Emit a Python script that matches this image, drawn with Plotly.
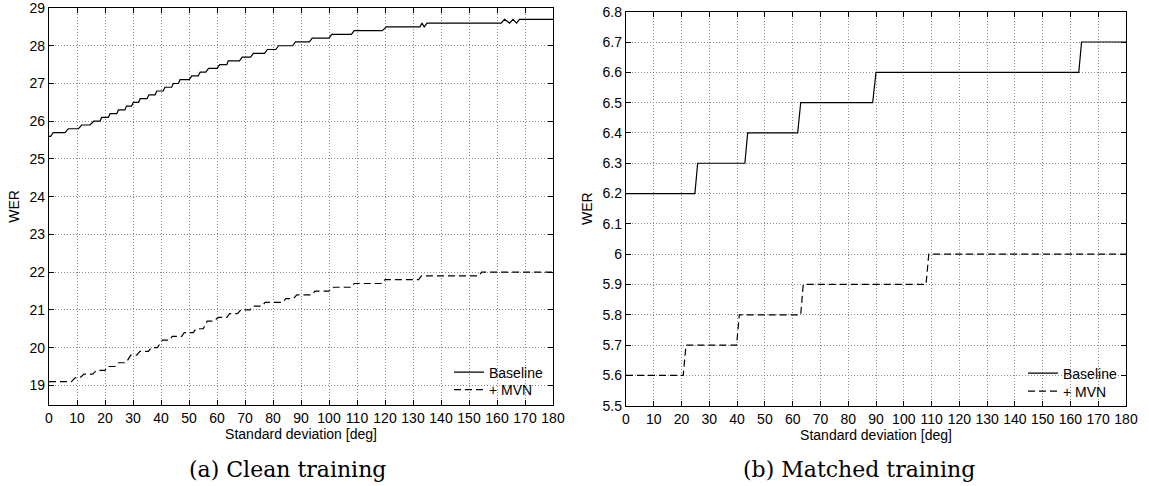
import plotly.graph_objects as go

# ---- data: WER vs. standard deviation of the angle perturbation ----
# (a) clean training: vertices of the piecewise-linear curves
clean_base_x = [0, 0.6, 1.5, 5.7, 6.9, 10.5, 11.7, 14.6, 16, 18.2, 18.8, 21.2, 21.8, 24.2,
                24.8, 27.1, 27.7, 29.5, 30.1, 32, 32.6, 35, 35.7, 37.9, 38.5, 40.8, 41.4,
                43.8, 44.4, 46.2, 46.8, 50.1, 51, 53.3, 54, 56, 57, 60, 61, 63.5, 64, 68,
                69, 72, 73, 77, 78, 81, 82, 87, 88, 93, 94, 100, 101, 108, 109, 119, 120.5,
                132.5, 133.2, 134, 135, 161.5, 162.7, 164.5, 165.7, 167, 168, 180]
clean_base_y = [25.6, 25.6, 25.7, 25.7, 25.8, 25.8, 25.9, 25.9, 26.0, 26.0, 26.1, 26.1, 26.2,
                26.2, 26.3, 26.3, 26.4, 26.4, 26.5, 26.5, 26.6, 26.6, 26.7, 26.7, 26.8, 26.8,
                26.9, 26.9, 27.0, 27.0, 27.1, 27.1, 27.2, 27.2, 27.3, 27.3, 27.4, 27.4, 27.5,
                27.5, 27.6, 27.6, 27.7, 27.7, 27.8, 27.8, 27.9, 27.9, 28.0, 28.0, 28.1, 28.1,
                28.2, 28.2, 28.3, 28.3, 28.4, 28.4, 28.5, 28.5, 28.6, 28.5, 28.6, 28.6, 28.7,
                28.6, 28.7, 28.6, 28.7, 28.7]

clean_mvn_x = [0, 8, 9.3, 11, 12.5, 15.6, 17, 20, 21, 23.6, 24.8, 27.5, 29.2, 31.3, 32.5,
               35.5, 36.5, 38.7, 40.5, 43.2, 44, 47.4, 48.3, 51.5, 52.5, 55.1, 56.5, 58.7,
               60.5, 63.5, 64.5, 67.3, 68.5, 71.8, 72.8, 76, 77.2, 83.5, 84.6, 87.3, 88.5,
               94, 95, 100, 101, 108, 109, 119, 120, 132, 133, 153.5, 154.5, 180]
clean_mvn_y = [19.1, 19.1, 19.2, 19.2, 19.3, 19.3, 19.4, 19.4, 19.5, 19.5, 19.6, 19.6, 19.8,
               19.8, 19.9, 19.9, 20.0, 20.0, 20.2, 20.2, 20.3, 20.3, 20.4, 20.4, 20.5, 20.5,
               20.7, 20.7, 20.8, 20.8, 20.9, 20.9, 21.0, 21.0, 21.1, 21.1, 21.2, 21.2, 21.3,
               21.3, 21.4, 21.4, 21.5, 21.5, 21.6, 21.6, 21.7, 21.7, 21.8, 21.8, 21.9, 21.9,
               22.0, 22.0]

# (b) matched training
matched_base_x = [0, 24.8, 25.8, 42.8, 43.8, 61.8, 62.9, 88.8, 90, 163, 164, 180]
matched_base_y = [6.2, 6.2, 6.3, 6.3, 6.4, 6.4, 6.5, 6.5, 6.6, 6.6, 6.7, 6.7]

matched_mvn_x = [0, 20.6, 21.6, 39.8, 40.8, 62.9, 63.8, 108, 109, 180]
matched_mvn_y = [5.6, 5.6, 5.7, 5.7, 5.8, 5.8, 5.9, 5.9, 6.0, 6.0]

x_ticks = list(range(0, 181, 10))
clean_y_ticks = list(range(19, 30))
matched_y_ticks = [5.5, 5.6, 5.7, 5.8, 5.9, 6.0, 6.1, 6.2, 6.3, 6.4, 6.5, 6.6, 6.7, 6.8]
matched_y_labels = ["5.5", "5.6", "5.7", "5.8", "5.9", "6", "6.1", "6.2", "6.3", "6.4",
                    "6.5", "6.6", "6.7", "6.8"]

series_names = ["Baseline", "+ MVN"]
captions = ["(a) Clean training", "(b) Matched training"]

# ---- figure ----
W, H = 1149, 486
SANS = "Liberation Sans, Arial, sans-serif"
LINE_W = 1.2
DASH = "7px,4px"


def px_x(p):
    """Pixel column -> paper fraction."""
    return p / W


def px_y(p):
    """Pixel row -> paper fraction."""
    return 1 - p / H


fig = go.Figure()
# one legend per entry so each entry can sit on its own row position
fig.add_trace(go.Scatter(x=clean_base_x, y=clean_base_y, mode="lines", name=series_names[0],
                         line=dict(color="black", width=LINE_W), xaxis="x", yaxis="y",
                         legend="legend"))
fig.add_trace(go.Scatter(x=clean_mvn_x, y=clean_mvn_y, mode="lines", name=series_names[1],
                         line=dict(color="black", width=LINE_W, dash=DASH), xaxis="x",
                         yaxis="y", legend="legend2"))
fig.add_trace(go.Scatter(x=matched_base_x, y=matched_base_y, mode="lines", name=series_names[0],
                         line=dict(color="black", width=LINE_W), xaxis="x2", yaxis="y2",
                         legend="legend3"))
fig.add_trace(go.Scatter(x=matched_mvn_x, y=matched_mvn_y, mode="lines", name=series_names[1],
                         line=dict(color="black", width=LINE_W, dash=DASH), xaxis="x2",
                         yaxis="y2", legend="legend4"))

axis_common = dict(
    showline=True, linecolor="black", linewidth=1.3, mirror="allticks",
    ticks="inside", ticklen=5, tickwidth=1, tickcolor="black",
    showgrid=True, gridcolor="#8a8a8a", gridwidth=1, griddash="1px,2px",
    zeroline=False, automargin=False, ticklabeloverflow="allow",
    tickfont=dict(family=SANS, size=14, color="black"),
    title_font=dict(family=SANS, size=14, color="black"),
)


def legend_at(x_px, y_px):
    return dict(x=px_x(x_px), y=px_y(y_px), xanchor="left", yanchor="middle",
                bgcolor="rgba(0,0,0,0)", borderwidth=0,
                font=dict(family=SANS, size=14, color="black"))


fig.update_layout(
    width=W, height=H, margin=dict(l=0, r=0, t=0, b=0, autoexpand=False),
    paper_bgcolor="white", plot_bgcolor="white",
    xaxis=dict(domain=[px_x(49), px_x(553)], range=[0, 180], tickvals=x_ticks,
               anchor="y", title=dict(text="Standard deviation [deg]", standoff=2),
               **axis_common),
    yaxis=dict(domain=[px_y(405), px_y(8)], range=[18.48, 29], tickvals=clean_y_ticks,
               anchor="x", title=dict(text="WER", standoff=6), **axis_common),
    xaxis2=dict(domain=[px_x(626), px_x(1126)], range=[0, 180], tickvals=x_ticks,
                anchor="y2", title=dict(text="Standard deviation [deg]", standoff=2),
                **axis_common),
    yaxis2=dict(domain=[px_y(405.7), px_y(11.7)], range=[5.5, 6.8], tickvals=matched_y_ticks,
                ticktext=matched_y_labels, anchor="x2", title=dict(text="WER", standoff=6),
                **axis_common),
    legend=legend_at(449, 372.5),
    legend2=legend_at(449, 390),
    legend3=legend_at(1023, 373.5),
    legend4=legend_at(1023, 391.5),
    showlegend=True,
)

for text, cx in zip(captions, [287, 859]):
    fig.add_annotation(text=text, x=px_x(cx), y=px_y(469.5), xref="paper", yref="paper",
                       xanchor="center", yanchor="middle", showarrow=False,
                       font=dict(family="DejaVu Serif, serif", size=22, color="black"))

fig.write_html("out.html")
